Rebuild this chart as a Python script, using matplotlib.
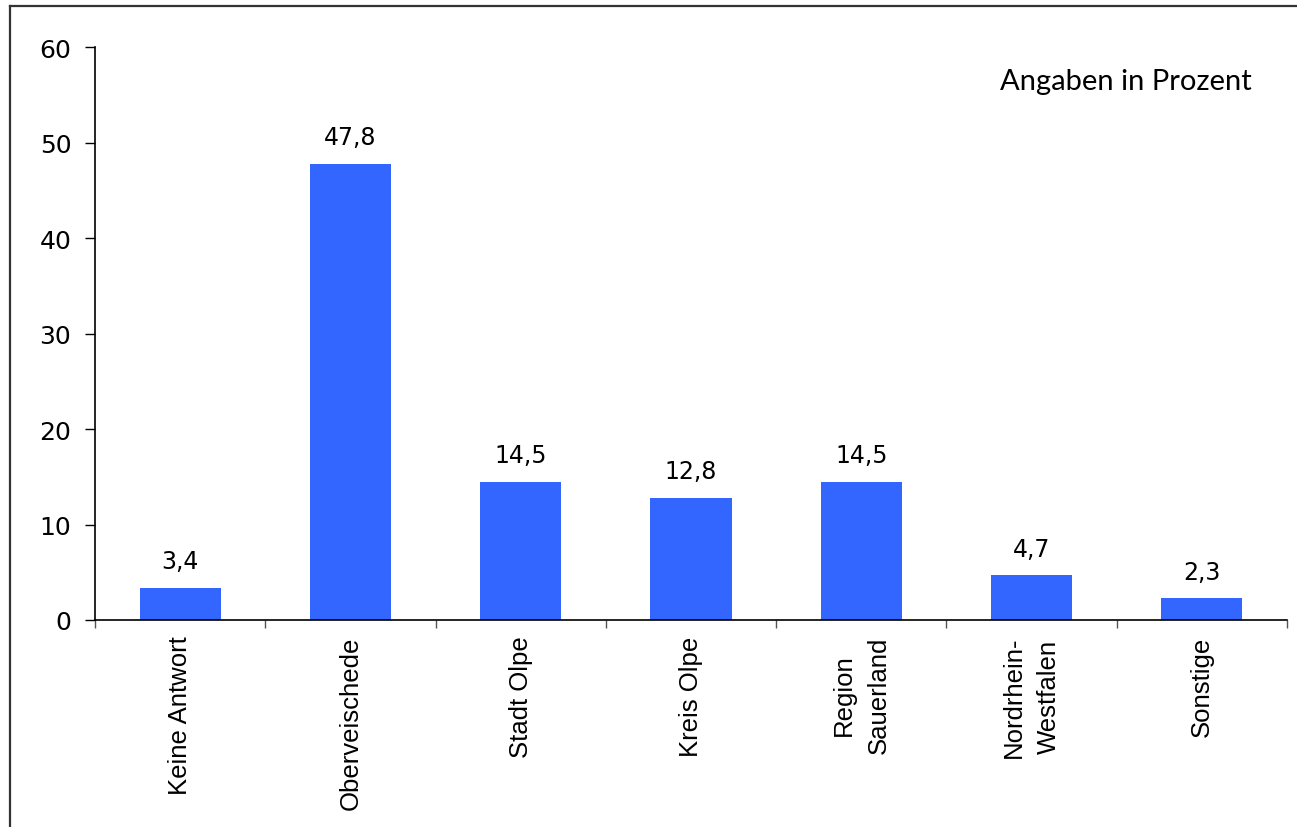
import matplotlib

matplotlib.use("Agg")

import matplotlib.pyplot as plt
from matplotlib.lines import Line2D
import numpy as np


CATEGORIES = [
    "Keine Antwort",
    "Oberveischede",
    "Stadt Olpe",
    "Kreis Olpe",
    "Region\nSauerland",
    "Nordrhein-\nWestfalen",
    "Sonstige",
]
VALUES = [3.4, 47.8, 14.5, 12.8, 14.5, 4.7, 2.3]
Y_TICKS = [0, 10, 20, 30, 40, 50, 60]
NOTE = "Angaben in Prozent"

BAR_COLOR = "#3366FF"


def fmt_de(value: float) -> str:
    """Format a number with a German decimal comma."""
    return f"{value:.1f}".replace(".", ",")


fig = plt.figure(figsize=(12.97, 8.28), dpi=100)
ax = fig.add_axes([0.0732, 0.25, 0.9191, 0.692])

x = np.arange(len(CATEGORIES))
ax.bar(x, VALUES, width=0.476, color=BAR_COLOR, zorder=2)

for xi, value in zip(x, VALUES):
    ax.annotate(
        fmt_de(value),
        xy=(xi, value),
        xytext=(0, 19),
        textcoords="offset points",
        ha="center",
        va="center",
        fontsize=17,
        family="DejaVu Sans",
    )

ax.set_xlim(-0.5, len(CATEGORIES) - 0.5)
ax.set_ylim(0, 60)
ax.set_yticks(Y_TICKS)
ax.set_yticklabels([str(t) for t in Y_TICKS], fontsize=18, family="DejaVu Sans")
ax.tick_params(axis="y", direction="out", length=7, width=1, pad=10)

# category labels at centres, tick marks at the category borders
ax.set_xticks(x)
ax.set_xticklabels(
    CATEGORIES,
    rotation=90,
    ha="center",
    va="top",
    multialignment="center",
    fontsize=18.5,
    family="Liberation Sans",
    linespacing=1.6,
)
ax.tick_params(axis="x", which="major", length=0, pad=11)
ax.set_xticks(np.arange(-0.5, len(CATEGORIES)), minor=True)
ax.tick_params(axis="x", which="minor", direction="out", length=6, width=1, color="#555555")

for side in ("top", "right"):
    ax.spines[side].set_visible(False)
for side in ("left", "bottom"):
    ax.spines[side].set_linewidth(1.2)
    ax.spines[side].set_color("black")

fig.text(
    1252 / 1297,
    1 - 82 / 828,
    NOTE,
    ha="right",
    va="center",
    fontsize=21,
    family="Lato",
)

# frame around the chart (only top and left edges are visible)
left_edge = 10 / 1297
top_edge = 1 - 7 / 828
fig.add_artist(Line2D([left_edge, 1.0], [top_edge, top_edge], color="#333333", linewidth=1.6))
fig.add_artist(Line2D([left_edge, left_edge], [0.0, top_edge], color="#333333", linewidth=1.6))

fig.savefig("out.png", dpi=100)
plt.close(fig)
